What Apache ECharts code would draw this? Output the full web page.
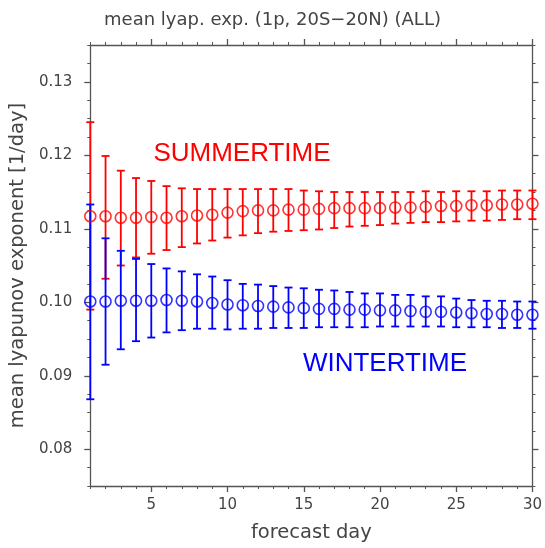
<!DOCTYPE html>
<html lang="en">
<head>
    <meta charset="UTF-8">
    <script src="https://cdn.jsdelivr.net/npm/echarts@6/dist/echarts.min.js"></script>
    <title>mean lyap. exp.</title>
    <style type="text/css">
        html, body { margin: 0; padding: 0; background: #fff; }
        #main { width: 545px; height: 548px; }
    </style>
</head>
<body>
<div id="main"></div>
<script type="text/javascript">
    const days = [1, 2, 3, 4, 5, 6, 7, 8, 9, 10, 11, 12, 13, 14, 15, 16, 17, 18, 19, 20, 21, 22, 23, 24, 25, 26, 27, 28, 29, 30];

    // SUMMERTIME (red)
    const summerMean = [0.1117, 0.1117, 0.1115, 0.1115, 0.1116, 0.1115, 0.1117, 0.1118, 0.1119, 0.1122,
        0.1124, 0.1125, 0.1125, 0.1126, 0.1126, 0.1127, 0.1128, 0.1128, 0.1128, 0.1128,
        0.1129, 0.1129, 0.1130, 0.1131, 0.1131, 0.1132, 0.1132, 0.1133, 0.1133, 0.1134];
    const summerLow = [0.0990, 0.1032, 0.1050, 0.1061, 0.1066, 0.1071, 0.1075, 0.1080, 0.1084, 0.1088,
        0.1091, 0.1094, 0.1096, 0.1097, 0.1098, 0.1099, 0.1101, 0.1103, 0.1104, 0.1105,
        0.1107, 0.1108, 0.1109, 0.1109, 0.1110, 0.1111, 0.1111, 0.1112, 0.1113, 0.1113];
    const summerHigh = [0.1245, 0.1199, 0.1179, 0.1169, 0.1165, 0.1158, 0.1155, 0.1154, 0.1154, 0.1154,
        0.1154, 0.1154, 0.1154, 0.1154, 0.1152, 0.1151, 0.1150, 0.1150, 0.1150, 0.1150,
        0.1150, 0.1150, 0.1151, 0.1150, 0.1151, 0.1151, 0.1151, 0.1152, 0.1152, 0.1152];

    // WINTERTIME (blue)
    const winterMean = [0.1001, 0.1001, 0.1002, 0.1002, 0.1002, 0.1003, 0.1002, 0.1001, 0.0999, 0.0997,
        0.0996, 0.0995, 0.0994, 0.0993, 0.0992, 0.0991, 0.0991, 0.0990, 0.0990, 0.0989,
        0.0989, 0.0988, 0.0987, 0.0987, 0.0986, 0.0985, 0.0984, 0.0984, 0.0983, 0.0983];
    const winterLow = [0.0868, 0.0915, 0.0936, 0.0947, 0.0952, 0.0959, 0.0962, 0.0964, 0.0964, 0.0963,
        0.0964, 0.0964, 0.0965, 0.0965, 0.0965, 0.0966, 0.0966, 0.0966, 0.0966, 0.0967,
        0.0967, 0.0967, 0.0967, 0.0967, 0.0966, 0.0966, 0.0966, 0.0965, 0.0965, 0.0964];
    const winterHigh = [0.1133, 0.1087, 0.1070, 0.1059, 0.1052, 0.1046, 0.1042, 0.1038, 0.1035, 0.1030,
        0.1025, 0.1024, 0.1022, 0.1020, 0.1019, 0.1017, 0.1016, 0.1014, 0.1012, 0.1012,
        0.1010, 0.1010, 0.1008, 0.1008, 0.1005, 0.1003, 0.1002, 0.1002, 0.1001, 0.1001];

    const xMajor = [5, 10, 15, 20, 25, 30];
    const yMajor = [0.08, 0.09, 0.10, 0.11, 0.12, 0.13];

    const FONT = 'DejaVu Sans';
    const AXIS_COLOR = '#555';

    function pairs(ys) {
        return days.map(function (d, i) { return [d, ys[i]]; });
    }
    function bars(lo, hi) {
        return days.map(function (d, i) { return [d, lo[i], hi[i]]; });
    }

    function errorBar(color) {
        return function (params, api) {
            const x = api.value(0);
            const lo = api.coord([x, api.value(1)]);
            const hi = api.coord([x, api.value(2)]);
            const cap = 4;
            const style = { stroke: color, lineWidth: 1.8 };
            return {
                type: 'group',
                children: [
                    { type: 'line', shape: { x1: lo[0], y1: lo[1], x2: hi[0], y2: hi[1] }, style: style },
                    { type: 'line', shape: { x1: lo[0] - cap, y1: lo[1], x2: lo[0] + cap, y2: lo[1] }, style: style },
                    { type: 'line', shape: { x1: hi[0] - cap, y1: hi[1], x2: hi[0] + cap, y2: hi[1] }, style: style }
                ]
            };
        };
    }

    function xAx(pos, major, labels) {
        return {
            type: 'value', min: 1, max: 30, position: pos,
            interval: 1,
            axisLine: { show: !major, lineStyle: { color: AXIS_COLOR, width: 1.3 } },
            axisTick: major
                ? { show: true, inside: false, length: 6, customValues: xMajor, lineStyle: { color: AXIS_COLOR, width: 1.3 } }
                : { show: true, inside: false, length: 3, lineStyle: { color: AXIS_COLOR, width: 1 } },
            axisLabel: labels
                ? { show: true, customValues: xMajor, margin: 12, fontFamily: FONT, fontSize: 15, color: '#444' }
                : { show: false },
            splitLine: { show: false }
        };
    }

    function yAx(pos, major, labels) {
        return {
            type: 'value', min: 0.075, max: 0.135, position: pos,
            interval: 0.0025,
            axisLine: { show: !major, lineStyle: { color: AXIS_COLOR, width: 1.3 } },
            axisTick: major
                ? { show: true, inside: false, length: 6, customValues: yMajor, lineStyle: { color: AXIS_COLOR, width: 1.3 } }
                : { show: true, inside: false, length: 3, lineStyle: { color: AXIS_COLOR, width: 1 } },
            axisLabel: labels
                ? { show: true, customValues: yMajor, margin: 18, fontFamily: FONT, fontSize: 15, color: '#444',
                    formatter: function (v) { return v.toFixed(2); } }
                : { show: false },
            splitLine: { show: false }
        };
    }

    const xAxes = [xAx('bottom', false, false), xAx('bottom', true, true), xAx('top', false, false), xAx('top', true, false)];
    xAxes[1].name = 'forecast day';
    xAxes[1].nameLocation = 'middle';
    xAxes[1].nameGap = 37;
    xAxes[1].nameTextStyle = { fontFamily: FONT, fontSize: 19.5, color: '#444' };

    const yAxes = [yAx('left', false, false), yAx('left', true, true), yAx('right', false, false), yAx('right', true, false)];
    yAxes[1].name = 'mean lyapunov exponent [1/day]';
    yAxes[1].nameLocation = 'middle';
    yAxes[1].nameGap = 53;
    yAxes[1].nameTextStyle = { fontFamily: FONT, fontSize: 19.5, color: '#444' };

    const myChart = echarts.init(document.getElementById('main'));

    const option = {
        animation: false,
        backgroundColor: '#fff',
        title: {
            text: 'mean lyap. exp. (1p, 20S\u221220N) (ALL)',
            left: 'center',
            top: 6,
            textStyle: { fontFamily: FONT, fontSize: 18, fontWeight: 'normal', color: '#444' }
        },
        grid: { left: 89, right: 11, top: 45, bottom: 59 },
        xAxis: xAxes,
        yAxis: yAxes,
        graphic: [
            { type: 'text', style: { text: 'SUMMERTIME', x: 242, y: 154, align: 'center', verticalAlign: 'middle',
                fontFamily: 'Liberation Sans', fontSize: 26, fill: '#ff0000' } },
            { type: 'text', style: { text: 'WINTERTIME', x: 385, y: 364, align: 'center', verticalAlign: 'middle',
                fontFamily: 'Liberation Sans', fontSize: 26, fill: '#0000ff' } }
        ],
        series: [
            { type: 'custom', renderItem: errorBar('#ff0000'), data: bars(summerLow, summerHigh), z: 2 },
            { type: 'custom', renderItem: errorBar('#0000ff'), data: bars(winterLow, winterHigh), z: 3 },
            { type: 'scatter', data: pairs(summerMean), symbol: 'circle', symbolSize: 11, z: 4,
                itemStyle: { color: 'transparent', borderColor: '#ff0000', borderWidth: 1.6 } },
            { type: 'scatter', data: pairs(winterMean), symbol: 'circle', symbolSize: 11, z: 5,
                itemStyle: { color: 'transparent', borderColor: '#0000ff', borderWidth: 1.6 } }
        ]
    };

    myChart.setOption(option);
</script>
</body>
</html>
